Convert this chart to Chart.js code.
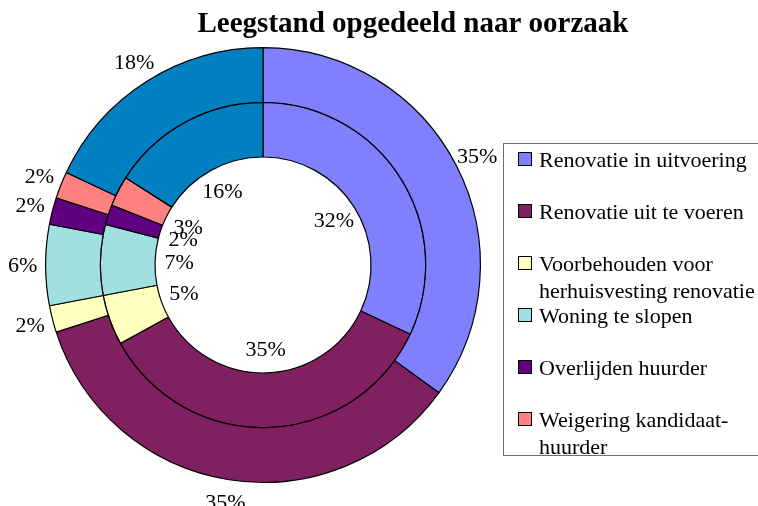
<!DOCTYPE html>
<html>
<head>
<meta charset="utf-8">
<script src="https://cdn.jsdelivr.net/npm/chart.js@4/dist/chart.umd.min.js"></script>
<style>
  html, body { margin: 0; padding: 0; background: #ffffff; }
  #wrap { width: 758px; height: 506px; position: relative; }
</style>
</head>
<body>
<div id="wrap"><canvas id="c" width="758" height="506"></canvas></div>
<script>
// ---- data ----
const titleText = "Leegstand opgedeeld naar oorzaak";
const categories = [
  "Renovatie in uitvoering",
  "Renovatie uit te voeren",
  "Voorbehouden voor herhuisvesting renovatie",
  "Woning te slopen",
  "Overlijden huurder",
  "Weigering kandidaat-huurder",
  "Overige"
];
const outerValues = [35, 35, 2, 6, 2, 2, 18];   // outer ring (%)
const innerValues = [32, 35, 5, 7, 2, 3, 16];   // inner ring (%)
const colors = ["#8080FF", "#802060", "#FFFFC0", "#A0E0E0", "#600080", "#FF8080", "#0080C0"];

const FONT = "'Liberation Serif', 'Times New Roman', serif";

const labelPlugin = {
  id: 'ringLabels',
  afterDatasetsDraw(chart) {
    const ctx = chart.ctx;
    ctx.save();
    ctx.font = "22px " + FONT;
    ctx.fillStyle = "#000";
    ctx.textAlign = "center";
    ctx.textBaseline = "middle";
    chart.data.datasets.forEach((ds, di) => {
      const meta = chart.getDatasetMeta(di);
      const total = ds.data.reduce((a, b) => a + b, 0);
      meta.data.forEach((arc, i) => {
        const p = arc.getProps(['x', 'y', 'startAngle', 'endAngle', 'innerRadius', 'outerRadius'], true);
        const mid = (p.startAngle + p.endAngle) / 2;
        const r = di === 0 ? p.outerRadius + 23 : p.innerRadius - 24;
        const tx = p.x + Math.cos(mid) * r;
        const ty = p.y + Math.sin(mid) * r;
        const txt = Math.round(ds.data[i] / total * 100) + "%";
        ctx.fillText(txt, tx, ty + 1);
      });
    });
    ctx.restore();
  }
};

function wrapText(ctx, text, maxW) {
  const tokens = text.replace(/-/g, "-\u0001").split(/(\s+|\u0001)/).filter(t => t !== "\u0001" && t !== "");
  const lines = [];
  let cur = "";
  tokens.forEach(tok => {
    const test = cur + tok;
    if (cur.trim() !== "" && ctx.measureText(test.trimEnd()).width > maxW) {
      lines.push(cur.trim());
      cur = tok.trim() === "" ? "" : tok;
    } else {
      cur = test;
    }
  });
  if (cur.trim() !== "") lines.push(cur.trim());
  return lines;
}

const legendPlugin = {
  id: 'sideLegend',
  afterDraw(chart) {
    const ctx = chart.ctx;
    const box = { x: 503.5, y: 143.5, w: 300, h: 312 };
    ctx.save();
    ctx.strokeStyle = "#6b6b6b";
    ctx.lineWidth = 1;
    ctx.strokeRect(box.x, box.y, box.w, box.h);
    ctx.beginPath();
    ctx.rect(box.x + 0.5, box.y + 0.5, box.w - 1, box.h - 1);
    ctx.clip();
    ctx.font = "22px " + FONT;
    ctx.textAlign = "left";
    ctx.textBaseline = "alphabetic";
    const startBase = 167, step = 52, lineH = 27;
    categories.forEach((name, i) => {
      const base = startBase + i * step;
      ctx.fillStyle = colors[i];
      ctx.fillRect(518.5, base - 14.5, 13, 13);
      ctx.strokeStyle = "#000";
      ctx.strokeRect(518.5, base - 14.5, 13, 13);
      ctx.fillStyle = "#000";
      const lines = wrapText(ctx, name, 218);
      lines.forEach((ln, k) => ctx.fillText(ln, 539, base + k * lineH));
    });
    ctx.restore();

    ctx.save();
    ctx.font = "bold 29px " + FONT;
    ctx.fillStyle = "#000";
    ctx.textAlign = "center";
    ctx.textBaseline = "alphabetic";
    ctx.fillText(titleText, 413, 32);
    ctx.restore();
  }
};

new Chart(document.getElementById('c'), {
  type: 'doughnut',
  data: {
    labels: categories,
    datasets: [
      { data: outerValues, backgroundColor: colors, borderColor: "#000", borderWidth: 1.2 },
      { data: innerValues, backgroundColor: colors, borderColor: "#000", borderWidth: 1.2 }
    ]
  },
  options: {
    responsive: false,
    animation: false,
    cutout: 108,
    layout: { padding: { left: 45, top: 47, right: 277, bottom: 23 } },
    plugins: {
      legend: { display: false },
      title: { display: false },
      tooltip: { enabled: false }
    }
  },
  plugins: [labelPlugin, legendPlugin]
});
</script>
</body>
</html>
